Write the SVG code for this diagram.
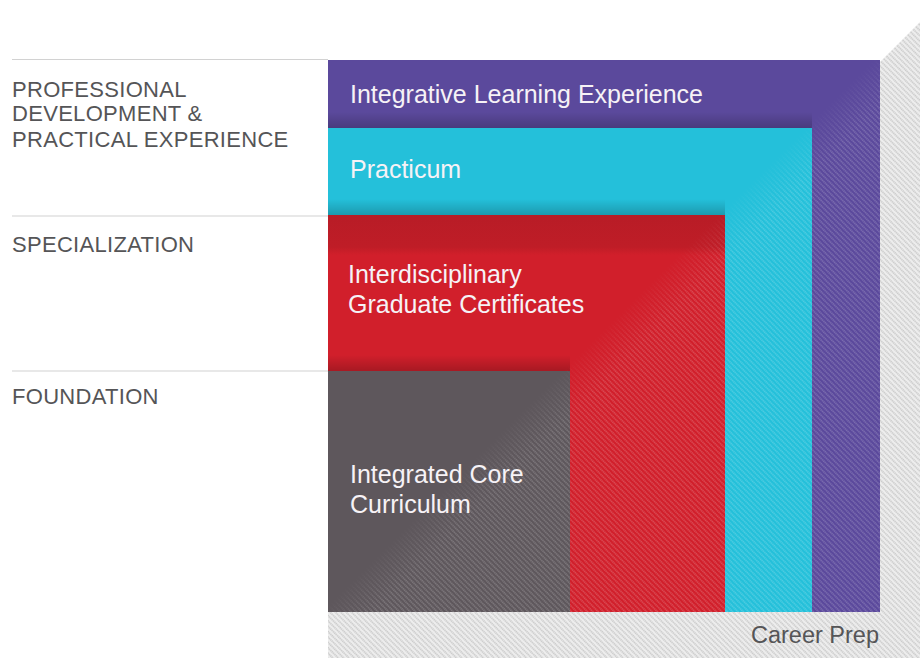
<svg xmlns="http://www.w3.org/2000/svg" width="920" height="658" viewBox="0 0 920 658">
  <defs>
    <pattern id="hatchLight" width="3.8" height="3.8" patternUnits="userSpaceOnUse" patternTransform="rotate(45)">
      <line x1="0" y1="1.9" x2="3.8" y2="1.9" stroke="#ffffff" stroke-opacity="0.4" stroke-width="0.9" stroke-dasharray="1.3 0.6"/>
    </pattern>
    <pattern id="hatchGrey" width="3.8" height="3.8" patternUnits="userSpaceOnUse" patternTransform="rotate(45)">
      <rect width="3.8" height="3.8" fill="#ededed"/>
      <line x1="0" y1="1.9" x2="3.8" y2="1.9" stroke="#a9a9a9" stroke-width="0.9" stroke-dasharray="1.3 0.6"/>
    </pattern>
    <linearGradient id="fadeDiag" gradientUnits="userSpaceOnUse" x1="466" y1="466" x2="492" y2="492">
      <stop offset="0" stop-color="#fff" stop-opacity="0"/>
      <stop offset="1" stop-color="#fff" stop-opacity="1"/>
    </linearGradient>
    <mask id="diagMask" maskUnits="userSpaceOnUse" x="0" y="0" width="920" height="658">
      <rect x="328" y="60" width="552" height="552" fill="url(#fadeDiag)"/>
    </mask>
    <linearGradient id="shadowUp" x1="0" y1="0" x2="0" y2="1">
      <stop offset="0" stop-color="#000" stop-opacity="0"/>
      <stop offset="1" stop-color="#000" stop-opacity="0.2"/>
    </linearGradient>
    <linearGradient id="redBand" x1="0" y1="0" x2="0" y2="1">
      <stop offset="0" stop-color="#b81c26" stop-opacity="1"/>
      <stop offset="0.8" stop-color="#bf1d27" stop-opacity="1"/>
      <stop offset="1" stop-color="#bf1d27" stop-opacity="0"/>
    </linearGradient>
    <style>
      .lbl { font-family: "Liberation Sans", Arial, sans-serif; font-size: 22px; fill: #555557; letter-spacing: 0.3px; }
      .blk { font-family: "Liberation Sans", Arial, sans-serif; font-size: 25px; fill: #f6f2f6; }
      .div { stroke: #d2d2d2; stroke-width: 1.2; }
    </style>
  </defs>

  <rect width="920" height="658" fill="#ffffff"/>

  <g id="career-prep">
    <polygon points="328,612 880,612 880,62 920,22 920,658 328,658" fill="url(#hatchGrey)"/>
    <text class="lbl" x="751" y="643" style="font-size:23.5px;letter-spacing:0">Career Prep</text>
  </g>

  <g id="integrative-learning">
    <rect x="328" y="60" width="552" height="552" fill="#5b499c"/>
    <rect x="328" y="112" width="484" height="16" fill="url(#shadowUp)"/>
    <text class="blk" x="350" y="103">Integrative Learning Experience</text>
  </g>

  <g id="practicum">
    <rect x="328" y="128" width="484" height="484" fill="#24c0da"/>
    <rect x="328" y="199" width="397" height="16" fill="url(#shadowUp)"/>
    <text class="blk" x="350" y="178">Practicum</text>
  </g>

  <g id="certificates">
    <rect x="328" y="215" width="397" height="397" fill="#d11f2b"/>
    <rect x="328" y="215" width="397" height="40" fill="url(#redBand)"/>
    <rect x="328" y="355" width="242" height="16" fill="url(#shadowUp)"/>
    <text class="blk" x="348" y="283">Interdisciplinary</text>
    <text class="blk" x="348" y="313">Graduate Certificates</text>
  </g>

  <g id="core-curriculum">
    <rect x="328" y="371" width="242" height="241" fill="#5e575c"/>
    <text class="blk" x="350" y="483">Integrated Core</text>
    <text class="blk" x="350" y="513">Curriculum</text>
  </g>

  <g id="hatch-overlay">
    <rect x="328" y="60" width="552" height="552" fill="url(#hatchLight)" mask="url(#diagMask)"/>
  </g>

  <g id="tier-labels">
    <line class="div" x1="12" y1="59.5" x2="328" y2="59.5"/>
    <line class="div" x1="12" y1="216" x2="328" y2="216"/>
    <line class="div" x1="12" y1="371" x2="328" y2="371"/>
    <text class="lbl" x="12" y="97">PROFESSIONAL</text>
    <text class="lbl" x="12" y="121">DEVELOPMENT &amp;</text>
    <text class="lbl" x="12" y="147">PRACTICAL EXPERIENCE</text>
    <text class="lbl" x="12" y="252">SPECIALIZATION</text>
    <text class="lbl" x="12" y="404">FOUNDATION</text>
  </g>
</svg>
